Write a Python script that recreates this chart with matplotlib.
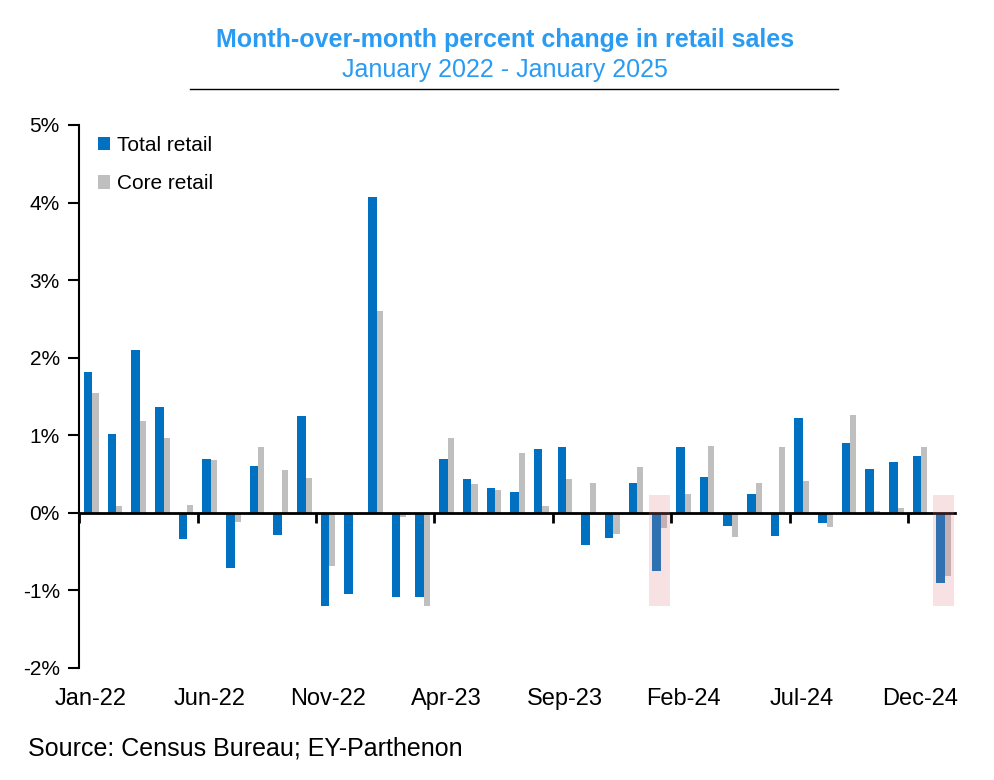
import numpy as np
import matplotlib.pyplot as plt
from matplotlib.patches import Rectangle

plt.rcParams["font.family"] = ["Liberation Sans", "DejaVu Sans"]

months = ["Jan-22", "Feb-22", "Mar-22", "Apr-22", "May-22", "Jun-22", "Jul-22", "Aug-22",
          "Sep-22", "Oct-22", "Nov-22", "Dec-22", "Jan-23", "Feb-23", "Mar-23", "Apr-23",
          "May-23", "Jun-23", "Jul-23", "Aug-23", "Sep-23", "Oct-23", "Nov-23", "Dec-23",
          "Jan-24", "Feb-24", "Mar-24", "Apr-24", "May-24", "Jun-24", "Jul-24", "Aug-24",
          "Sep-24", "Oct-24", "Nov-24", "Dec-24", "Jan-25"]

total_retail = [1.82, 1.01, 2.10, 1.37, -0.34, 0.70, -0.71, 0.60, -0.28, 1.25, -1.20, -1.04,
                4.07, -1.08, -1.09, 0.69, 0.43, 0.32, 0.27, 0.82, 0.85, -0.41, -0.33, 0.38,
                -0.75, 0.85, 0.46, -0.17, 0.24, -0.30, 1.22, -0.13, 0.90, 0.56, 0.65, 0.73,
                -0.90]
core_retail = [1.55, 0.09, 1.18, 0.97, 0.10, 0.68, -0.12, 0.85, 0.55, 0.45, -0.68, -0.03,
               2.60, -0.06, -1.20, 0.97, 0.37, 0.29, 0.77, 0.09, 0.43, 0.39, -0.27, 0.59,
               -0.19, 0.24, 0.86, -0.31, 0.39, 0.85, 0.41, -0.18, 1.26, 0.02, 0.06, 0.85,
               -0.82]

label_months = months[0::5]
highlight_months = ["Jan-24", "Jan-25"]

BLUE = "#0070C0"
GREY = "#BFBFBF"
TITLE_BLUE = "#2A9BF2"

fig = plt.figure(figsize=(9.94, 7.8), dpi=100)
ax = fig.add_axes([0.0797, 0.1436, 0.8815, 0.6962])

x = np.arange(len(months))
ax.bar(x - 0.30, total_retail, width=0.36, align="edge", color=BLUE, label="Total retail", zorder=2)
ax.bar(x + 0.06, core_retail, width=0.26, align="edge", color=GREY, label="Core retail", zorder=2)

# shaded highlight boxes over the latest January readings
for m in highlight_months:
    i = months.index(m)
    ax.add_patch(Rectangle((i - 0.46, -1.2), 0.92, 1.43, facecolor="#DC7882", alpha=0.22,
                           edgecolor="none", zorder=3))

ax.set_xlim(-0.5, len(months) - 0.5)
ax.set_ylim(-2, 5)
ax.set_yticks(range(-2, 6))
ax.set_yticklabels([f"{v}%" for v in range(-2, 6)], fontsize=15)
ax.tick_params(axis="y", direction="out", length=8, width=1.5, pad=6)

ax.spines["top"].set_visible(False)
ax.spines["right"].set_visible(False)
ax.spines["left"].set_linewidth(1.5)
ax.spines["bottom"].set_position(("data", 0))
ax.spines["bottom"].set_linewidth(2)

# tick marks every 5 months on the zero line, labels at the bottom
ax.set_xticks(np.arange(-0.5, len(months), 5))
ax.set_xticklabels([])
ax.tick_params(axis="x", direction="out", length=7, width=2)
for m in label_months:
    ax.text(months.index(m), -0.036, m, transform=ax.get_xaxis_transform(),
            ha="center", va="top", fontsize=17)

leg = ax.legend(loc="upper left", bbox_to_anchor=(0.0, 1.015), frameon=False, fontsize=15,
                handlelength=0.6, handleheight=0.6, handletextpad=0.3, labelspacing=0.95)

fig.text(0.508, 0.949, "Month-over-month percent change in retail sales", ha="center", va="center",
         fontsize=18, fontweight="bold", color=TITLE_BLUE)
fig.text(0.508, 0.910, "January 2022 - January 2025", ha="center", va="center",
         fontsize=18, color=TITLE_BLUE)
fig.add_artist(plt.Line2D([0.191, 0.843], [0.886, 0.886], color="black", lw=1))

fig.text(0.028, 0.041, "Source: Census Bureau; EY-Parthenon", ha="left", va="center", fontsize=18)

fig.savefig("out.png", dpi=100)
